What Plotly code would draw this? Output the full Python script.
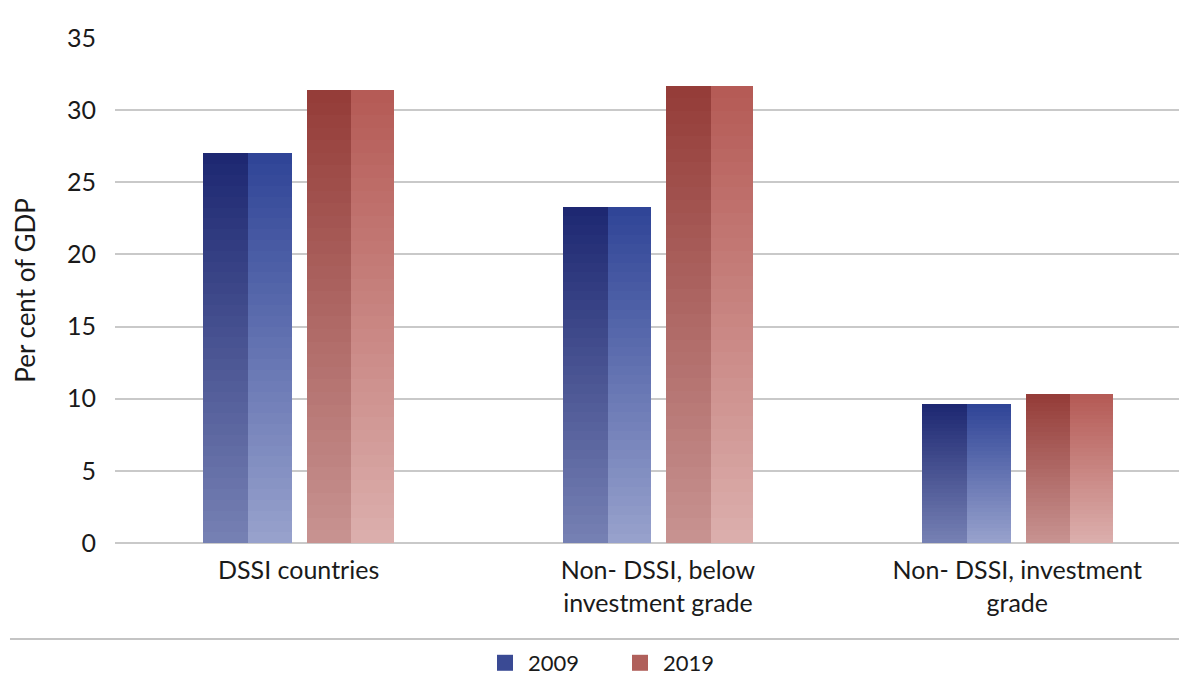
import plotly.graph_objects as go

# ---------------- data ----------------
categories = ["DSSI countries", "Non- DSSI, below<br>investment grade", "Non- DSSI, investment<br>grade"]
years = ["2009", "2019"]
values_2009 = [27.0, 23.3, 9.6]
values_2019 = [31.4, 31.7, 10.3]
y_tick_values = [0, 5, 10, 15, 20, 25, 30, 35]
y_title = "Per cent of GDP"

# ---------------- style ----------------
FONT = "Lato"
TXT = "#1a1a1a"
GRID = "#c9c9c9"
# (bottom colour, top colour) for left and right halves of each bar
STYLE = {
    "2009": {"left": ("#7580b3", "#1e2872"), "right": ("#97a1cc", "#304597"),
             "legend": "#3a4a94", "offsets": (-0.2655, -0.1403, -0.0181)},
    "2019": {"left": ("#c79290", "#953d39"), "right": ("#dbaeac", "#b55b56"),
             "legend": "#b0605b", "offsets": (0.0237, 0.1462, 0.2658)},
}
N_SEG = 36


def hex2rgb(h):
    h = h.lstrip("#")
    return tuple(int(h[i:i + 2], 16) for i in (0, 2, 4))


def mix(c0, c1, t):
    a, b = hex2rgb(c0), hex2rgb(c1)
    return "rgb({},{},{})".format(*[round(a[i] + (b[i] - a[i]) * t) for i in range(3)])


x_pos = list(range(len(categories)))
fig = go.Figure()

series = {"2009": values_2009, "2019": values_2019}
for yr in years:
    vals = series[yr]
    st = STYLE[yr]
    o0, o1, o2 = st["offsets"]
    for half, (a, b) in (("left", (o0, o1)), ("right", (o1, o2))):
        cb, ct = st[half]
        for k in range(N_SEG):
            t = k / (N_SEG - 1)
            fig.add_trace(go.Bar(
                x=x_pos,
                y=[v / N_SEG * 1.02 if k < N_SEG - 1 else v / N_SEG for v in vals],
                base=[v * k / N_SEG for v in vals],
                offset=a, width=b - a,
                marker=dict(color=mix(cb, ct, t), line=dict(width=0)),
                showlegend=False, hoverinfo="skip",
            ))
    # legend entry
    fig.add_trace(go.Scatter(
        x=[None], y=[None], mode="markers", name=yr,
        marker=dict(symbol="square", size=16, color=st["legend"]),
    ))

# separator line above legend
fig.add_shape(type="line", xref="paper", yref="paper",
              x0=-0.0987, x1=1.0, y0=-0.190, y1=-0.190,
              line=dict(color="#c4c4c4", width=2))

fig.update_layout(
    width=1179, height=675,
    margin=dict(l=115, r=0, t=38, b=132, autoexpand=False),
    paper_bgcolor="white", plot_bgcolor="white",
    barmode="overlay", bargap=0,
    font=dict(family=FONT, size=25, color=TXT),
    showlegend=True,
    legend=dict(orientation="h", x=0.4718, xanchor="center", y=-0.2376, yanchor="middle",
                font=dict(family=FONT, size=22, color=TXT), itemwidth=36,
                entrywidth=84,
                tracegroupgap=0, bgcolor="rgba(0,0,0,0)"),
    xaxis=dict(range=[-0.511, 2.450], tickmode="array", tickvals=x_pos, ticktext=categories,
               showgrid=False, zeroline=False, showline=False, ticks="",
               tickfont=dict(family=FONT, size=25, color=TXT), ticklabelstandoff=10),
    yaxis=dict(range=[0, 35], tickmode="array", tickvals=y_tick_values,
               ticktext=[str(v) for v in y_tick_values],
               showgrid=True, gridcolor=GRID, gridwidth=1.5, zeroline=True,
               zerolinecolor=GRID, zerolinewidth=2, showline=False, ticks="",
               tickfont=dict(family=FONT, size=25, color=TXT), ticklabelstandoff=18,
               title=dict(text=y_title, font=dict(family=FONT, size=26, color=TXT), standoff=23)),
)

fig.write_html("out.html")
